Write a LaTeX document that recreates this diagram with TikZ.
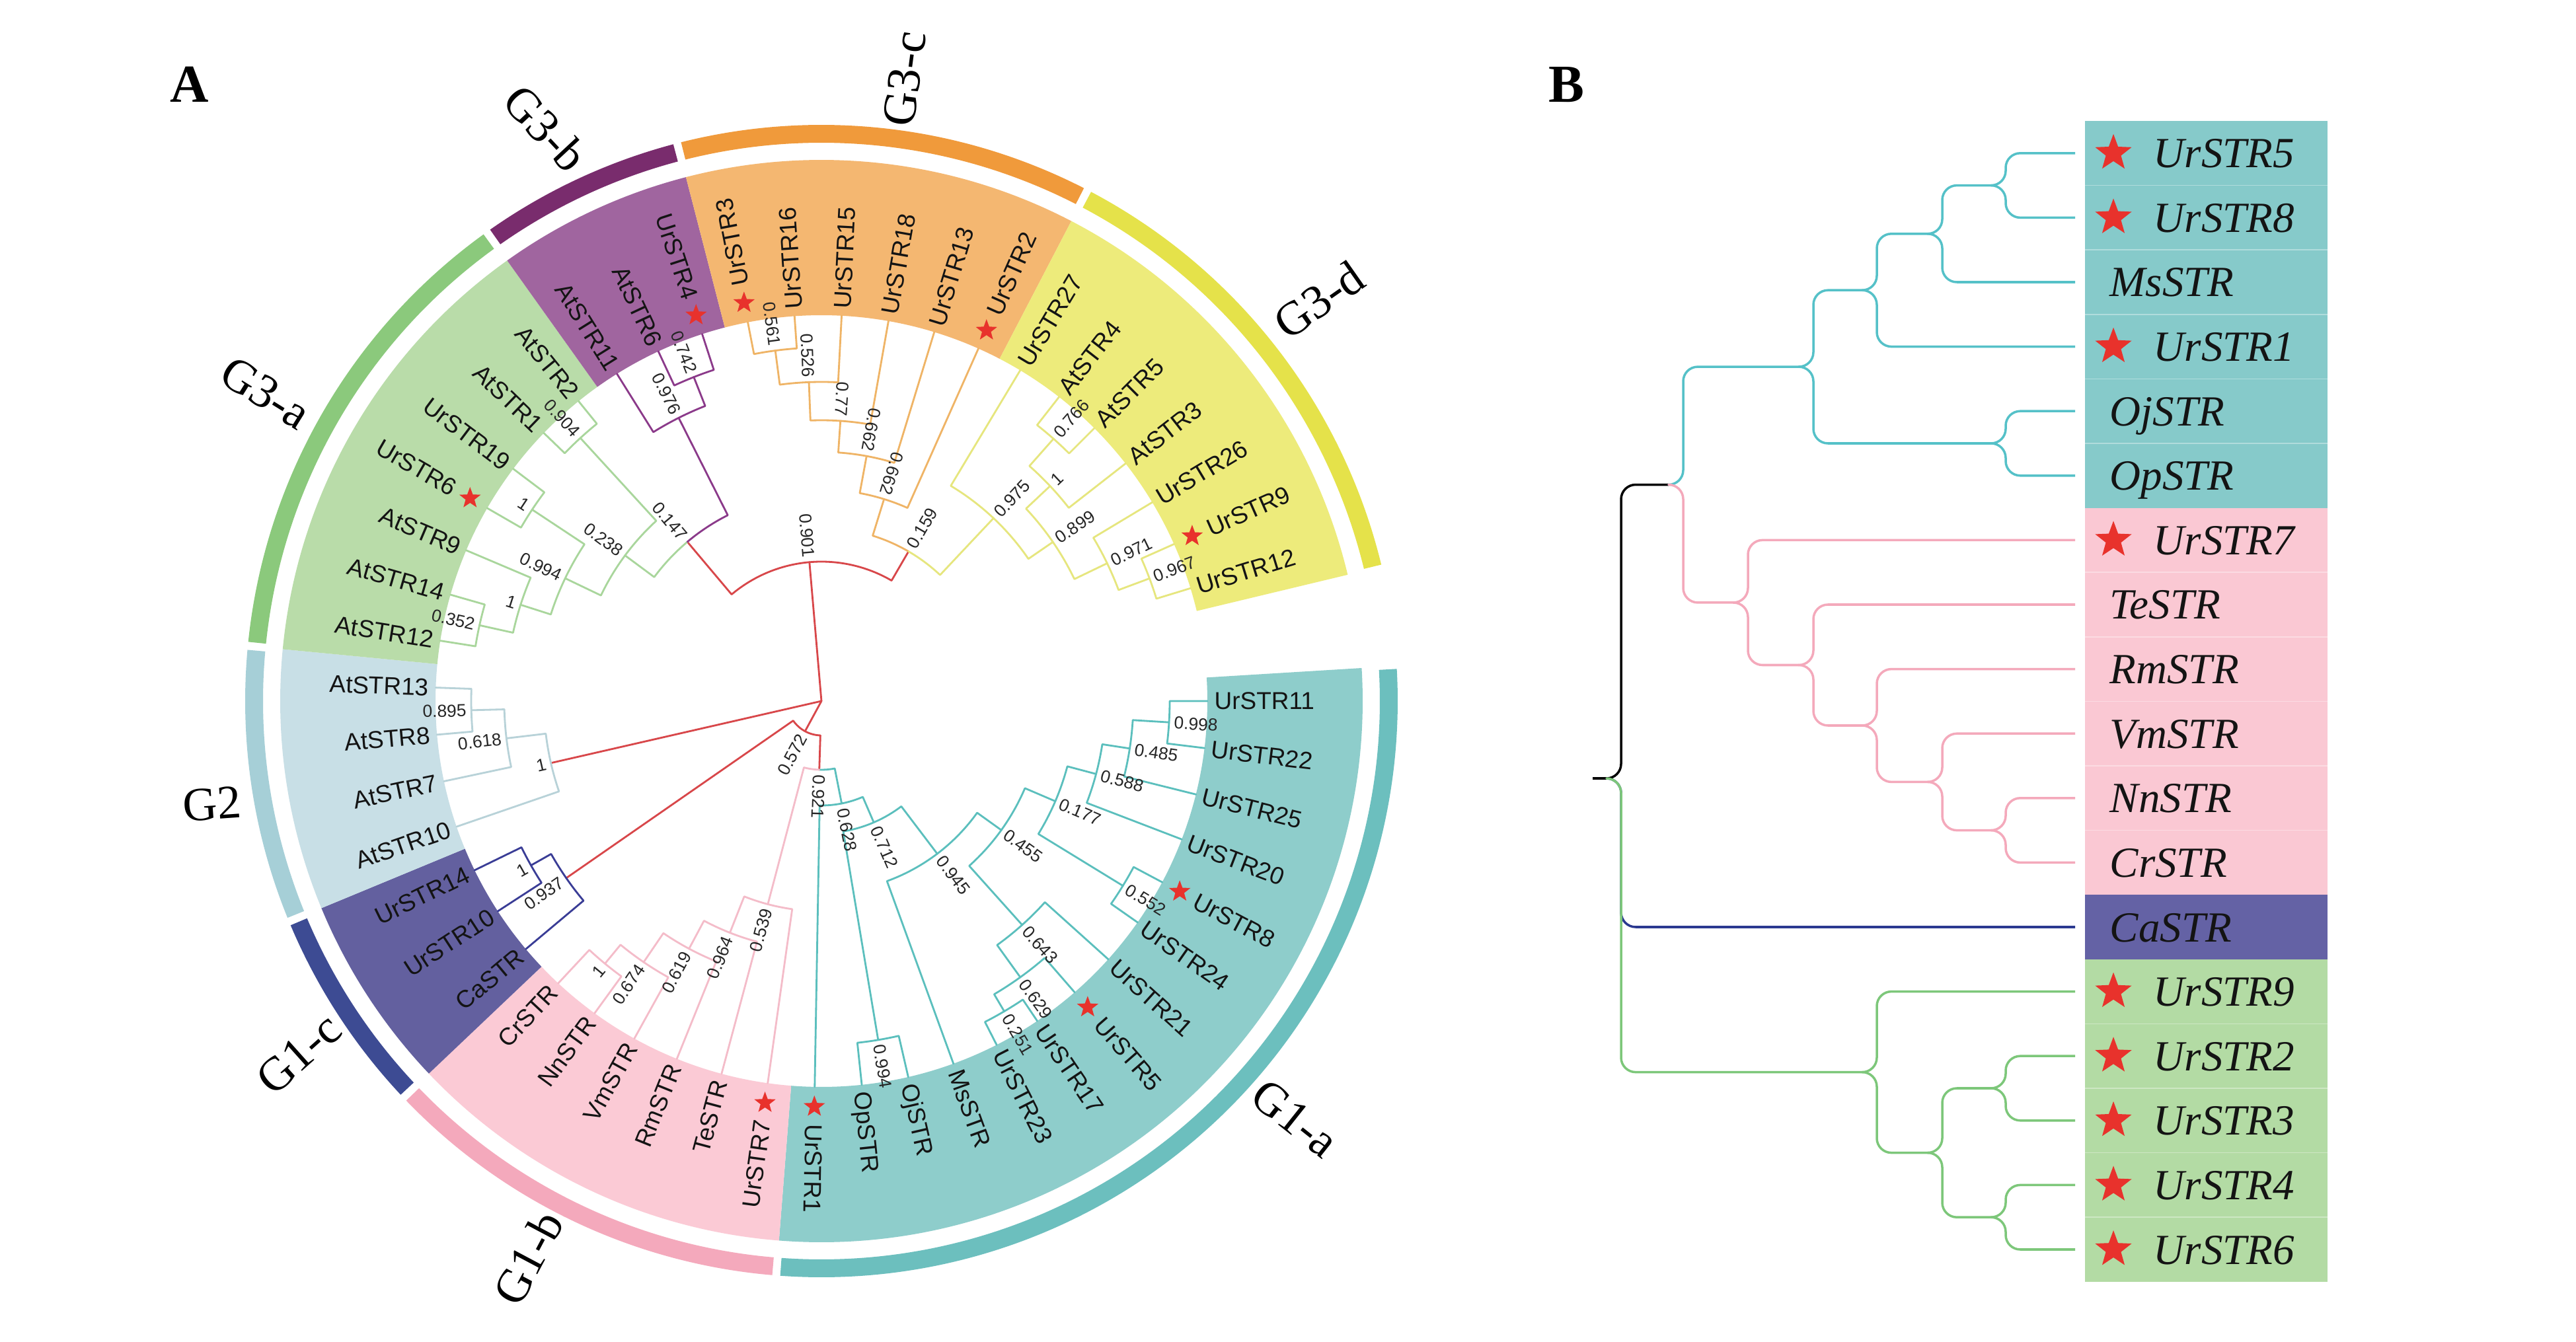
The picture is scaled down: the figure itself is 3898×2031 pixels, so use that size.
\documentclass[tikz,border=0pt]{standalone}
\usepackage{fontspec}
\setmainfont{Liberation Serif}
\newfontfamily\arialf{Liberation Sans}
\usetikzlibrary{shapes.geometric}
% highlight colours
\definecolor{hla}{HTML}{8ECDCB}
\definecolor{hlb}{HTML}{FBCAD5}
\definecolor{hlc}{HTML}{63609F}
\definecolor{hld}{HTML}{C8DFE6}
\definecolor{hle}{HTML}{B9DCA9}
\definecolor{hlf}{HTML}{A0659F}
\definecolor{hlg}{HTML}{F4B771}
\definecolor{hlh}{HTML}{EDEB7B}
% ring colours
\definecolor{rga}{HTML}{6CBFBE}
\definecolor{rgb}{HTML}{F4A9BC}
\definecolor{rgc}{HTML}{3D4B93}
\definecolor{rgd}{HTML}{A6CFD7}
\definecolor{rge}{HTML}{8BC97C}
\definecolor{rgf}{HTML}{792C6D}
\definecolor{rgg}{HTML}{F09A3B}
\definecolor{rgh}{HTML}{E5E24A}
% branch colours
\definecolor{cr}{HTML}{D8474A}
\definecolor{ca}{HTML}{5BBFBD}
\definecolor{cb}{HTML}{F4BCC9}
\definecolor{cc}{HTML}{3A3D96}
\definecolor{cd}{HTML}{B8D2D8}
\definecolor{ce}{HTML}{A9D69C}
\definecolor{cf}{HTML}{8B3A8A}
\definecolor{cg}{HTML}{EFB466}
\definecolor{ch}{HTML}{E6E67E}
\definecolor{starred}{HTML}{E8322C}
% panel B colours
\definecolor{tealB}{HTML}{55C1C8}
\definecolor{pinkB}{HTML}{F4A9BB}
\definecolor{greenB}{HTML}{7DC77A}
\definecolor{navyB}{HTML}{2B3990}
\definecolor{boxa}{HTML}{86CACA}
\definecolor{boxb}{HTML}{FAC8D3}
\definecolor{boxc}{HTML}{6462A5}
\definecolor{boxd}{HTML}{B3DBA4}

\tikzset{
 lab/.style={font=\arialf\fontsize{10.5}{12}\selectfont, inner sep=0pt, text depth=0pt, text=black!92},
 bs/.style={font=\arialf\fontsize{7.5}{9}\selectfont, inner sep=0pt, text depth=0pt, text=black!85},
 grp/.style={font=\fontsize{20.5}{24}\selectfont, inner sep=0pt},
 strA/.style={star, star points=5, star point ratio=2.4, fill=starred, draw=none, minimum size=0.34cm, inner sep=0pt},
 strB/.style={star, star points=5, star point ratio=2.4, fill=starred, draw=none, minimum size=0.58cm, inner sep=0pt},
 bl/.style={font=\itshape\fontsize{18.5}{22}\selectfont, inner sep=0pt, text=black!92},
 brn/.style={line width=0.8pt, line cap=round},
 bline/.style={line width=1pt, rounded corners=0.22cm},
 ttl/.style={font=\bfseries\fontsize{23}{27}\selectfont, inner sep=0pt}
}
% sector: colour, a1, a2, r_in, r_out
\newcommand{\sect}[5]{\fill[#1] ({#2}:{#4}) arc[start angle={#2}, end angle={#3}, radius={#4*0.01cm}] -- ({#3}:{#5}) arc[start angle={#3}, end angle={#2}, radius={#5*0.01cm}] -- cycle;}
% branch: colour, r_parent, a_parent, r_child, a_child
\newcommand{\br}[5]{\draw[brn,#1] ({#3}:{#2}) arc[start angle={#3}, end angle={#5}, radius={#2*0.01cm}] -- ({#5}:{#4});}
\newcommand{\bsR}[3]{\node[bs,anchor=west,rotate={#1}] at ({#1}:{#2+7}) {#3};}
\newcommand{\bsL}[3]{\node[bs,anchor=east,rotate={#1+180}] at ({#1}:{#2+7}) {#3};}
\newcommand{\ry}[1]{-(231.8+97.6*(#1))}
\newcommand{\bel}[5]{\draw[bline,#1] ({#2-22},{\ry{#3}}) -- ({#2},{\ry{#3}}) -- ({#2},{\ry{#5}}) -- ({#4},{\ry{#5}});}

\begin{document}
\begin{tikzpicture}[x=0.01cm,y=0.01cm,line join=round]
\useasboundingbox (0,0) rectangle (3898,-2031);
\fill[white] (0,0) rectangle (3898,-2031);

\node[ttl] (titleA) at (287,-128) {A};
\node[ttl] (titleB) at (2370,-128) {B};

\begin{scope}[shift={(1243,-1061)}]
% highlight sectors
\sect{hla}{3.5}{-94.5}{584}{819}
\sect{hlb}{-94.5}{-136.5}{584}{819}
\sect{hlc}{-136.5}{-157.5}{584}{819}
\sect{hld}{-157.5}{-185.5}{584}{819}
\sect{hle}{-185.5}{-234.5}{584}{819}
\sect{hlf}{-234.5}{-255.5}{584}{819}
\sect{hlg}{-255.5}{-297.5}{584}{819}
\sect{hlh}{-297.5}{-346.5}{584}{819}
% outer rings
\sect{rga}{3.2}{-94.1}{845}{872}
\sect{rgb}{-94.9}{-136.1}{845}{872}
\sect{rgc}{-136.9}{-157.1}{845}{872}
\sect{rgd}{-157.9}{-185.1}{845}{872}
\sect{rge}{-185.9}{-234.1}{845}{872}
\sect{rgf}{-234.9}{-255.1}{845}{872}
\sect{rgg}{-255.9}{-297.1}{845}{872}
\sect{rgh}{-297.9}{-346.3}{845}{872}

% root
\draw[brn,cr] (0,0) -- (-265.06:211);
\draw[brn,cr] (0,0) -- (-167.1:420);
\draw[brn,cr] (0,0) -- (-118.5:52);
% G3
\br{cr}{211}{-265.06}{315}{-229.9}
\br{cr}{211}{-265.06}{262}{-300.2}
\br{ce}{315}{-229.9}{370}{-216.56}
\br{cf}{315}{-229.9}{480}{-243.25}
\br{cg}{262}{-300.2}{320}{-287.22}
\br{ch}{262}{-300.2}{380}{-313.25}
% G3-a
\br{ce}{370}{-216.56}{540}{-227.5}
\br{ce}{370}{-216.56}{430}{-205.6}
\br{ce}{540}{-227.5}{584}{-231}
\br{ce}{540}{-227.5}{584}{-224}
\br{ce}{430}{-205.6}{525}{-213.5}
\br{ce}{430}{-205.6}{478}{-197.75}
\br{ce}{525}{-213.5}{584}{-217}
\br{ce}{525}{-213.5}{584}{-210}
\br{ce}{478}{-197.75}{584}{-203}
\br{ce}{478}{-197.75}{530}{-192.5}
\br{ce}{530}{-192.5}{584}{-196}
\br{ce}{530}{-192.5}{584}{-189}
% G3-b
\br{cf}{480}{-243.25}{584}{-238}
\br{cf}{480}{-243.25}{527}{-248.5}
\br{cf}{527}{-248.5}{584}{-245}
\br{cf}{527}{-248.5}{584}{-252}
% G3-c
\br{cg}{320}{-287.22}{377}{-280.44}
\br{cg}{320}{-287.22}{584}{-294}
\br{cg}{377}{-280.44}{425}{-273.875}
\br{cg}{377}{-280.44}{584}{-287}
\br{cg}{425}{-273.875}{483}{-267.75}
\br{cg}{425}{-273.875}{584}{-280}
\br{cg}{483}{-267.75}{535}{-262.5}
\br{cg}{483}{-267.75}{584}{-273}
\br{cg}{535}{-262.5}{584}{-259}
\br{cg}{535}{-262.5}{584}{-266}
% G3-d
\br{ch}{380}{-313.25}{584}{-301}
\br{ch}{380}{-313.25}{425}{-325.5}
\br{ch}{425}{-325.5}{475}{-316.75}
\br{ch}{425}{-325.5}{480}{-334.25}
\br{ch}{475}{-316.75}{530}{-311.5}
\br{ch}{475}{-316.75}{584}{-322}
\br{ch}{530}{-311.5}{584}{-308}
\br{ch}{530}{-311.5}{584}{-315}
\br{ch}{480}{-334.25}{584}{-329}
\br{ch}{480}{-334.25}{530}{-339.5}
\br{ch}{530}{-339.5}{584}{-336}
\br{ch}{530}{-339.5}{584}{-343}
% G2
\br{cd}{420}{-167.1}{480}{-173.25}
\br{cd}{420}{-167.1}{584}{-161}
\br{cd}{480}{-173.25}{530}{-178.5}
\br{cd}{480}{-173.25}{584}{-168}
\br{cd}{530}{-178.5}{584}{-182}
\br{cd}{530}{-178.5}{584}{-175}
% G1 node
\br{cr}{52}{-118.5}{470}{-145.25}
\br{cr}{52}{-118.5}{104}{-91.8}
% G1-c
\br{cc}{470}{-145.25}{584}{-140}
\br{cc}{470}{-145.25}{505}{-150.5}
\br{cc}{505}{-150.5}{584}{-147}
\br{cc}{505}{-150.5}{584}{-154}
% split G1-a / G1-b
\br{ca}{104}{-91.8}{158}{-78.83}
\br{cb}{104}{-91.8}{318}{-104.78}
% G1-b
\br{cb}{318}{-104.78}{584}{-98}
\br{cb}{318}{-104.78}{377}{-111.56}
\br{cb}{377}{-111.56}{584}{-105}
\br{cb}{377}{-111.56}{425}{-118.125}
\br{cb}{425}{-118.125}{584}{-112}
\br{cb}{425}{-118.125}{478}{-124.25}
\br{cb}{478}{-124.25}{584}{-119}
\br{cb}{478}{-124.25}{515}{-129.5}
\br{cb}{515}{-129.5}{584}{-126}
\br{cb}{515}{-129.5}{584}{-133}
% G1-a
\br{ca}{158}{-78.83}{200}{-66.67}
\br{ca}{158}{-78.83}{584}{-91}
\br{ca}{200}{-66.67}{290}{-52.83}
\br{ca}{200}{-66.67}{520}{-80.5}
\br{ca}{520}{-80.5}{584}{-77}
\br{ca}{520}{-80.5}{584}{-84}
\br{ca}{290}{-52.83}{335}{-35.66}
\br{ca}{290}{-52.83}{584}{-70}
\br{ca}{335}{-35.66}{385}{-23.19}
\br{ca}{335}{-35.66}{455}{-48.125}
\br{ca}{385}{-23.19}{430}{-14.875}
\br{ca}{385}{-23.19}{535}{-31.5}
\br{ca}{430}{-14.875}{472}{-8.75}
\br{ca}{430}{-14.875}{584}{-21}
\br{ca}{472}{-8.75}{527}{-3.5}
\br{ca}{472}{-8.75}{584}{-14}
\br{ca}{527}{-3.5}{584}{0}
\br{ca}{527}{-3.5}{584}{-7}
\br{ca}{535}{-31.5}{584}{-28}
\br{ca}{535}{-31.5}{584}{-35}
\br{ca}{455}{-48.125}{584}{-42}
\br{ca}{455}{-48.125}{515}{-54.25}
\br{ca}{515}{-54.25}{584}{-49}
\br{ca}{515}{-54.25}{545}{-59.5}
\br{ca}{545}{-59.5}{584}{-56}
\br{ca}{545}{-59.5}{584}{-63}

% bootstrap values
\bsR{-3.5}{527}{0.998}
\bsR{-8.75}{472}{0.485}
\bsR{-14.875}{430}{0.588}
\bsR{-23.19}{385}{0.177}
\bsR{-31.5}{535}{0.552}
\bsR{-35.66}{335}{0.455}
\bsR{-52.83}{290}{0.945}
\bsR{-48.125}{455}{0.643}
\bsR{-54.25}{515}{0.629}
\bsR{-59.5}{545}{0.251}
\bsR{-66.67}{200}{0.712}
\bsR{-80.5}{520}{0.994}
\bsR{-78.83}{158}{0.628}
\bsR{-91.8}{104}{0.921}
\bsL{-118.5}{52}{0.572}
\bsL{-104.78}{318}{0.539}
\bsL{-111.56}{377}{0.964}
\bsL{-118.125}{425}{0.619}
\bsL{-124.25}{478}{0.674}
\bsL{-129.5}{515}{1}
\bsL{-145.25}{470}{0.937}
\bsL{-150.5}{505}{1}
\bsL{-167.1}{420}{1}
\bsL{-173.25}{480}{0.618}
\bsL{-178.5}{530}{0.895}
\bsL{-192.5}{530}{0.352}
\bsL{-197.75}{478}{1}
\bsL{-213.5}{525}{1}
\bsL{-205.6}{430}{0.994}
\bsL{-227.5}{540}{0.904}
\bsL{-216.56}{370}{0.238}
\bsL{-229.9}{315}{0.147}
\bsL{-243.25}{480}{0.976}
\bsL{-248.5}{527}{0.742}
\bsL{-265.06}{211}{0.901}
\bsL{-262.5}{535}{0.561}
\bsL{-267.75}{483}{0.526}
\bsL{-273.875}{425}{0.77}
\bsL{-280.44}{377}{0.662}
\bsL{-287.22}{320}{0.662}
\bsR{-300.2}{262}{0.159}
\bsR{-313.25}{380}{0.975}
\bsR{-316.75}{475}{1}
\bsR{-311.5}{530}{0.766}
\bsR{-325.5}{425}{0.899}
\bsR{-334.25}{480}{0.971}
\bsR{-339.5}{530}{0.967}

% leaf labels
\foreach \i/\n/\s in {0/UrSTR11/0,1/UrSTR22/0,2/UrSTR25/0,3/UrSTR20/0,4/UrSTR8/1,5/UrSTR24/0,6/UrSTR21/0,7/UrSTR5/1,8/UrSTR17/0,9/UrSTR23/0,10/MsSTR/0,11/OjSTR/0,12/OpSTR/0,13/UrSTR1/1,14/UrSTR7/1,15/TeSTR/0,16/RmSTR/0,17/VmSTR/0,18/NnSTR/0,19/CrSTR/0,20/CaSTR/0,21/UrSTR10/0,22/UrSTR14/0,23/AtSTR10/0,24/AtSTR7/0,25/AtSTR8/0,26/AtSTR13/0,27/AtSTR12/0,28/AtSTR14/0,29/AtSTR9/0,30/UrSTR6/1,31/UrSTR19/0,32/AtSTR1/0,33/AtSTR2/0,34/AtSTR11/0,35/AtSTR6/0,36/UrSTR4/1,37/UrSTR3/1,38/UrSTR16/0,39/UrSTR15/0,40/UrSTR18/0,41/UrSTR13/0,42/UrSTR2/1,43/UrSTR27/0,44/AtSTR4/0,45/AtSTR5/0,46/AtSTR3/0,47/UrSTR26/0,48/UrSTR9/1,49/UrSTR12/0}{
  \pgfmathsetmacro\ang{-7*\i}
  \pgfmathsetmacro\rr{\s==1 ? 640 : 594}
  \ifnum\i<14
    \node[lab,anchor=west,rotate=\ang] (leaf\i) at (\ang:\rr) {\n};
  \else\ifnum\i>36
    \node[lab,anchor=west,rotate=\ang] (leaf\i) at (\ang:\rr) {\n};
  \else
    \node[lab,anchor=east,rotate=\ang+180] (leaf\i) at (\ang:\rr) {\n};
  \fi\fi
  \ifnum\s=1 \node[strA] (star\i) at (\ang:614) {}; \fi
}

% group labels
\node[grp,rotate=-32] (gA3a) at (151:962) {G3-a};
\node[grp,rotate=-47] (gA3b) at (115.7:962) {G3-b};
\node[grp,rotate=82.4] (gA3c) at (82.4:950) {G3-c};
\node[grp,rotate=35] (gA3d) at (38.9:967) {G3-d};
\node[grp,rotate=4] (gA2) at (-170.4:935) {G2};
\node[grp,rotate=41.8] (gA1c) at (-146:954) {G1-c};
\node[grp,rotate=62] (gA1b) at (-117.8:952) {G1-b};
\node[grp,rotate=-38.5] (gA1a) at (-41.4:955) {G1-a};
\end{scope}

% ---------------- Panel B ----------------
\fill[boxa] (3155,{\ry{-0.5}}) rectangle (3522,{\ry{5.5}});
\fill[boxb] (3155,{\ry{5.5}}) rectangle (3522,{\ry{11.5}});
\fill[boxc] (3155,{\ry{11.5}}) rectangle (3522,{\ry{12.5}});
\fill[boxd] (3155,{\ry{12.5}}) rectangle (3522,{\ry{17.5}});
\foreach \k in {0.5,1.5,2.5,3.5,4.5,6.5,7.5,8.5,9.5,10.5,13.5,14.5,15.5,16.5}{
  \draw[white,opacity=0.35,line width=0.5pt] (3155,{\ry{\k}}) -- (3522,{\ry{\k}});
}
% root stub and first branches
\draw[line width=1pt,black] (2410,{\ry{9.695}}) -- (2431,{\ry{9.695}});
\bel{navyB}{2453}{9.695}{3140}{12}
\bel{black}{2453}{9.695}{2525}{5.140625}
\bel{greenB}{2453}{9.695}{2818}{14.25}
% T node
\bel{tealB}{2547}{5.140625}{2722}{3.3125}
\bel{pinkB}{2547}{5.140625}{2623}{6.96875}
% teal clade
\bel{tealB}{2744}{3.3125}{2818}{2.125}
\bel{tealB}{2744}{3.3125}{3013}{4.5}
\bel{tealB}{2840}{2.125}{2917}{1.25}
\bel{tealB}{2840}{2.125}{3140}{3}
\bel{tealB}{2939}{1.25}{3013}{0.5}
\bel{tealB}{2939}{1.25}{3140}{2}
\bel{tealB}{3035}{0.5}{3140}{0}
\bel{tealB}{3035}{0.5}{3140}{1}
\bel{tealB}{3035}{4.5}{3140}{4}
\bel{tealB}{3035}{4.5}{3140}{5}
% pink clade
\bel{pinkB}{2645}{6.96875}{3140}{6}
\bel{pinkB}{2645}{6.96875}{2722}{7.9375}
\bel{pinkB}{2744}{7.9375}{3140}{7}
\bel{pinkB}{2744}{7.9375}{2818}{8.875}
\bel{pinkB}{2840}{8.875}{3140}{8}
\bel{pinkB}{2840}{8.875}{2917}{9.75}
\bel{pinkB}{2939}{9.75}{3140}{9}
\bel{pinkB}{2939}{9.75}{3013}{10.5}
\bel{pinkB}{3035}{10.5}{3140}{10}
\bel{pinkB}{3035}{10.5}{3140}{11}
% green clade
\bel{greenB}{2840}{14.25}{3140}{13}
\bel{greenB}{2840}{14.25}{2917}{15.5}
\bel{greenB}{2939}{15.5}{3013}{14.5}
\bel{greenB}{2939}{15.5}{3013}{16.5}
\bel{greenB}{3035}{14.5}{3140}{14}
\bel{greenB}{3035}{14.5}{3140}{15}
\bel{greenB}{3035}{16.5}{3140}{16}
\bel{greenB}{3035}{16.5}{3140}{17}
% labels
\foreach \k/\n/\s in {0/UrSTR5/1,1/UrSTR8/1,2/MsSTR/0,3/UrSTR1/1,4/OjSTR/0,5/OpSTR/0,6/UrSTR7/1,7/TeSTR/0,8/RmSTR/0,9/VmSTR/0,10/NnSTR/0,11/CrSTR/0,12/CaSTR/0,13/UrSTR9/1,14/UrSTR2/1,15/UrSTR3/1,16/UrSTR4/1,17/UrSTR6/1}{
  \ifnum\s=1
    \node[strB] (bstar\k) at (3198,{\ry{\k}}) {};
    \node[bl,anchor=base west] (blab\k) at (3258,{\ry{\k}-22}) {\n};
  \else
    \node[bl,anchor=base west] (blab\k) at (3192,{\ry{\k}-22}) {\n};
  \fi
}
\end{tikzpicture}
\end{document}
